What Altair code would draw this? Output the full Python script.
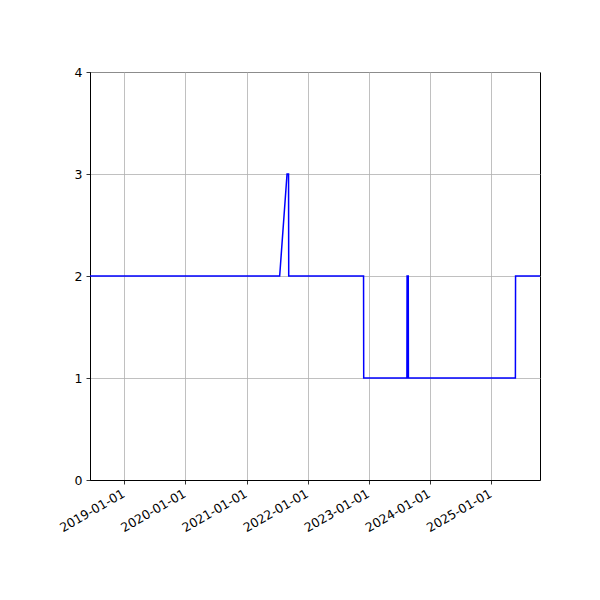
import altair as alt
import pandas as pd

dates = ["2018-06-10", "2021-07-17", "2021-08-30", "2021-09-08", "2021-09-09",
         "2022-11-30", "2022-12-01", "2023-08-16", "2023-08-17", "2023-08-24",
         "2023-08-25", "2025-05-25", "2025-05-26", "2025-10-19"]
values = [2, 2, 3, 3, 2, 2, 1, 1, 2, 2, 1, 1, 2, 2]
tick_years = [2019, 2020, 2021, 2022, 2023, 2024, 2025]
y_ticks = [0, 1, 2, 3, 4]

df = pd.DataFrame({"date": dates, "value": values})

font = "DejaVu Sans"

chart = alt.Chart(df).mark_line(color="#0000ff", strokeWidth=1.5, clip=True).encode(
    x=alt.X("date:T",
            scale=alt.Scale(type="utc", domain=[alt.DateTime(year=2018, month=6, date=10, utc=True),
                                                 alt.DateTime(year=2025, month=10, date=19, utc=True)],
                            nice=False),
            axis=alt.Axis(values=[alt.DateTime(year=y, month=1, date=1, utc=True) for y in tick_years],
                          format="%Y-%m-%d", title=None, labelAngle=330, labelAlign="right",
                          labelBaseline="top", labelPadding=3, labelOffset=-4,
                          labelOverlap=False, labelFlush=False)),
    y=alt.Y("value:Q", scale=alt.Scale(domain=[0, 4], nice=False),
            axis=alt.Axis(values=y_ticks, title=None, format="d", labelPadding=4)),
    order=alt.Order("date:T"),
).properties(
    width=450, height=408,
    autosize=alt.AutoSizeParams(type="none"),
    padding={"left": 82, "top": 64, "right": 52, "bottom": 120},
).configure_axis(
    grid=True, gridColor="#b0b0b0", gridWidth=0.8,
    domainColor="black", domainWidth=1,
    tickColor="black", tickSize=4, tickWidth=0.8,
    labelFont=font, labelFontSize=12.5, labelColor="black",
).configure_view(stroke="black", strokeWidth=1)

chart.save("out.html", embed_options={"renderer": "svg", "actions": False})
